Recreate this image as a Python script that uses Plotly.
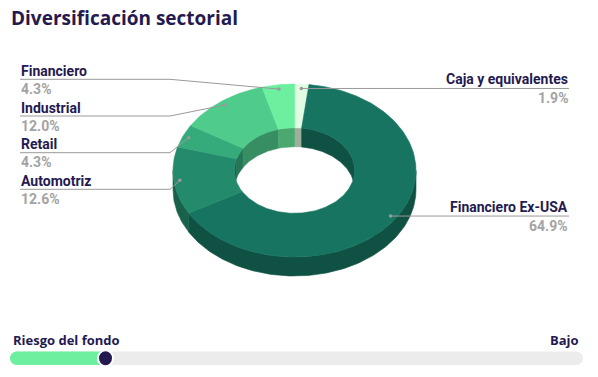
import math
import plotly.graph_objects as go

# ---------------- data ----------------
categorias = ["Caja y equivalentes", "Financiero Ex-USA", "Automotriz", "Retail", "Industrial", "Financiero"]
porcentajes = [1.9, 64.9, 12.6, 4.3, 12.0, 4.3]
colores = ["#e2fbe3", "#167461", "#238b6c", "#35aa7a", "#4fcb8c", "#6cf0a0"]
titulo = "Diversificación sectorial"
riesgo_titulo = "Riesgo del fondo"
riesgo_texto = "Bajo"
riesgo_nivel = 2
riesgo_max = 7

# ---------------- geometry / style ----------------
W, H = 598, 377
CX, CY = 294.5, 170.5
RX, RY = 121.5, 86.5
INNER = 0.495
DEPTH = 19
NAVY = "#241a50"
GRAY_TXT = "#a3a3a3"
LINE_C = "#9a9a9a"
LEFT_LINE_Y = [79.3, 116.0, 152.7, 189.3]  # label rows on the left, top to bottom
LEFT_X0, LEFT_X1 = 20, 170
RIGHT_X = 569
LBL_SIZE = 14


def darken(hx, f=0.7):
    hx = hx.lstrip("#")
    r, g, b = (int(hx[i:i + 2], 16) for i in (0, 2, 4))
    return "#%02x%02x%02x" % (int(r * f), int(g * f), int(b * f))


def arc(t1, t2, rx, ry, dz=0.0, step=1.0):
    n = max(2, int(abs(t2 - t1) / step) + 2)
    xs, ys = [], []
    for i in range(n):
        t = t1 + (t2 - t1) * i / (n - 1)
        a = math.radians(t)
        xs.append(CX + rx * math.sin(a))
        ys.append(CY - ry * math.cos(a) + dz)
    return xs, ys


def poly(xs, ys, color):
    return go.Scatter(x=xs + [xs[0]], y=ys + [ys[0]], mode="lines", fill="toself",
                      fillcolor=color, line=dict(color=color, width=0.6),
                      hoverinfo="skip", showlegend=False)


def clip(t1, t2, lo, hi):
    a, b = max(t1, lo), min(t2, hi)
    return (a, b) if b > a else None


# slice angles (degrees clockwise from 12 o'clock)
total = sum(porcentajes)
starts, ends = [], []
acc = 0.0
for v in porcentajes:
    starts.append(acc / total * 360)
    acc += v
    ends.append(acc / total * 360)

inner_walls, outer_walls, tops = [], [], []
for s, e, c in zip(starts, ends, colores):
    side = darken(c)
    # inner wall visible through the hole: back half
    for lo, hi in ((0, 90), (270, 360)):
        seg = clip(s, e, lo, hi)
        if seg:
            x1, y1 = arc(seg[0], seg[1], RX * INNER, RY * INNER, 0)
            x2, y2 = arc(seg[1], seg[0], RX * INNER, RY * INNER, DEPTH)
            inner_walls.append(poly(x1 + x2, y1 + y2, side))
    # outer wall visible in front half
    seg = clip(s, e, 90, 270)
    if seg:
        x1, y1 = arc(seg[0], seg[1], RX, RY, 0)
        x2, y2 = arc(seg[1], seg[0], RX, RY, DEPTH)
        outer_walls.append(poly(x1 + x2, y1 + y2, side))
    # top face
    x1, y1 = arc(s, e, RX, RY, 0)
    x2, y2 = arc(e, s, RX * INNER, RY * INNER, 0)
    tops.append(poly(x1 + x2, y1 + y2, c))

fig = go.Figure(inner_walls + outer_walls + tops)

# ---------------- labels with connectors ----------------
annotations = []
shapes = []
left_idx = [i for i in range(len(categorias)) if (starts[i] + ends[i]) / 2 > 180]
left_idx.sort(key=lambda i: -(starts[i] + ends[i]) / 2)  # top to bottom
for i, (cat, v) in enumerate(zip(categorias, porcentajes)):
    mid = math.radians((starts[i] + ends[i]) / 2)
    ax = CX + 0.95 * RX * math.sin(mid)
    ay = CY - 0.95 * RY * math.cos(mid)
    if i in left_idx:
        yl = LEFT_LINE_Y[left_idx.index(i)]
        xs = [LEFT_X0, LEFT_X1, ax]
        ys = [yl, yl, ay]
        annotations.append(dict(x=LEFT_X0 - 1, y=yl - 8.5, text="<b>%s</b>" % cat, xanchor="left",
                                yanchor="middle", showarrow=False,
                                font=dict(family="Roboto", size=LBL_SIZE, color=NAVY)))
        annotations.append(dict(x=LEFT_X0 - 1, y=yl + 9.5, text="<b>%.1f%%</b>" % v, xanchor="left",
                                yanchor="middle", showarrow=False,
                                font=dict(family="Roboto", size=LBL_SIZE, color=GRAY_TXT)))
    else:
        yl = ay
        xs = [ax, RIGHT_X]
        ys = [ay, ay]
        annotations.append(dict(x=RIGHT_X + 1, y=yl - 9.3, text="<b>%s</b>" % cat, xanchor="right",
                                yanchor="middle", showarrow=False,
                                font=dict(family="Roboto", size=LBL_SIZE, color=NAVY)))
        annotations.append(dict(x=RIGHT_X + 1, y=yl + 10, text="<b>%.1f%%</b>" % v, xanchor="right",
                                yanchor="middle", showarrow=False,
                                font=dict(family="Roboto", size=LBL_SIZE, color=GRAY_TXT)))
    fig.add_trace(go.Scatter(x=xs, y=ys, mode="lines", line=dict(color=LINE_C, width=1),
                             hoverinfo="skip", showlegend=False))
    fig.add_trace(go.Scatter(x=[ax], y=[ay], mode="markers",
                             marker=dict(size=3.5, color=LINE_C), hoverinfo="skip", showlegend=False))

# title
annotations.append(dict(x=9, y=18, text="<b>%s</b>" % titulo, xanchor="left", yanchor="middle",
                        showarrow=False, font=dict(family="Open Sans", size=19, color=NAVY)))

# ---------------- risk slider ----------------
TX0, TX1, TY0, TY1 = 10, 583, 351.5, 365
R = (TY1 - TY0) / 2
TC = (TY0 + TY1) / 2
knob_x = TX0 + (riesgo_nivel - 1) / (riesgo_max - 1) * (TX1 - TX0)
track = "#ececec"
green = "#6cf0a0"
shapes += [
    dict(type="circle", x0=TX0, x1=TX0 + 2 * R, y0=TY0, y1=TY1, fillcolor=track, line_width=0),
    dict(type="circle", x0=TX1 - 2 * R, x1=TX1, y0=TY0, y1=TY1, fillcolor=track, line_width=0),
    dict(type="rect", x0=TX0 + R, x1=TX1 - R, y0=TY0, y1=TY1, fillcolor=track, line_width=0),
    dict(type="circle", x0=TX0, x1=TX0 + 2 * R, y0=TY0, y1=TY1, fillcolor=green, line_width=0),
    dict(type="rect", x0=TX0 + R, x1=knob_x, y0=TY0, y1=TY1, fillcolor=green, line_width=0),
    dict(type="circle", x0=knob_x - 8.5, x1=knob_x + 8.5, y0=TC - 8.5, y1=TC + 8.5,
         fillcolor="white", line_width=0),
    dict(type="circle", x0=knob_x - 6.5, x1=knob_x + 6.5, y0=TC - 7, y1=TC + 7,
         fillcolor=NAVY, line_width=0),
]
annotations.append(dict(x=11, y=339.5, text="<b>%s</b>" % riesgo_titulo, xanchor="left", yanchor="middle",
                        showarrow=False, font=dict(family="Open Sans", size=13, color=NAVY)))
annotations.append(dict(x=581, y=339.5, text="<b>%s</b>" % riesgo_texto, xanchor="right", yanchor="middle",
                        showarrow=False, font=dict(family="Open Sans", size=13, color=NAVY)))

fig.update_layout(
    width=W, height=H, autosize=False,
    margin=dict(l=0, r=0, t=0, b=0),
    paper_bgcolor="white", plot_bgcolor="white",
    xaxis=dict(range=[0, W], visible=False, fixedrange=True),
    yaxis=dict(range=[H, 0], visible=False, fixedrange=True),
    annotations=annotations, shapes=shapes,
    showlegend=False,
)

fig.write_html("out.html", config={"displayModeBar": False},
               post_script="document.body.style.margin='0';")
